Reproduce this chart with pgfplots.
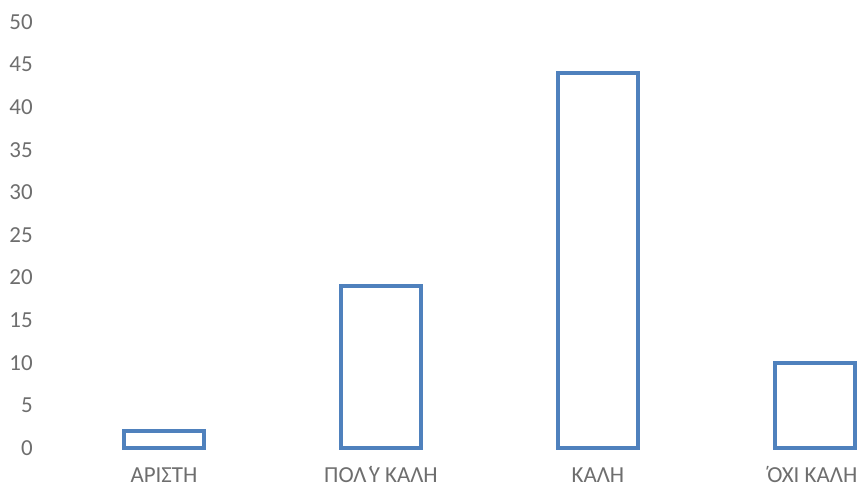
\documentclass[border=0pt]{standalone}
\usepackage{fontspec}
\setmainfont{Carlito}
\usepackage{pgfplots}
\pgfplotsset{compat=1.18}
\definecolor{barblue}{HTML}{4F81BD}
\definecolor{lab}{HTML}{6E6E6E}
\begin{document}
\begin{tikzpicture}
\begin{axis}[
  at={(41.625pt,30pt)}, anchor=south west,
  scale only axis, width=602.6pt, height=319.5pt,
  xmin=-0.5, xmax=3.203, ymin=0, ymax=50,
  ytick={0,5,...,50},
  xtick={0,1,2,3},
  xticklabels={ΑΡΙΣΤΗ, {ΠΟΛ΄\kern-0.22emΥ ΚΑΛΗ}, ΚΑΛΗ, {΄\kern-0.14emΟΧΙ ΚΑΛΗ\kern7pt}},
  axis line style={draw=none},
  major tick length=0pt,
  tick style={draw=none},
  /pgf/number format/assume math mode=true,
  ticklabel style={font=\fontsize{17.2}{21}\selectfont, text=lab},
  yticklabel style={anchor=east, inner sep=0pt, xshift=-16.9pt},
  xticklabel style={anchor=base, text depth=0pt, inner sep=0pt, yshift=-26pt},
  clip=false,
  ybar, bar width=60.5pt,
]
\addplot[draw=barblue, fill=white, line width=3pt, bar shift=0pt] coordinates {(0,2) (1,19) (2,44) (3,10)};
\end{axis}
\pgfresetboundingbox
\path[use as bounding box] (0,0) rectangle (644.25pt,366pt);
\end{tikzpicture}
\end{document}
